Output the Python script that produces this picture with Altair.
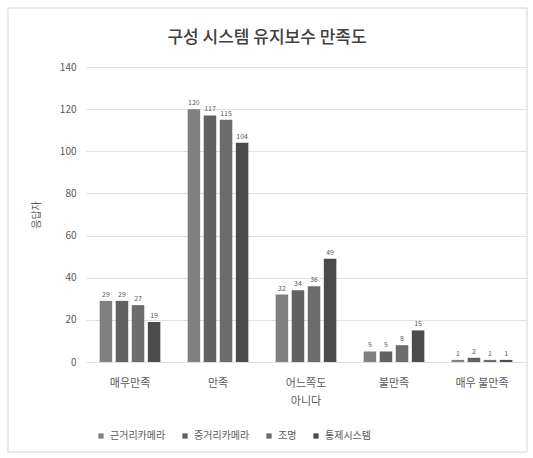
import altair as alt
import pandas as pd

# Survey categories (x axis) and equipment series
categories = ["매우만족", "만족", "어느쪽도 아니다", "불만족", "매우 불만족"]
series = ["근거리카메라", "중거리카메라", "조명", "통제시스템"]

# Respondent counts per series, in category order
near_camera = [29, 120, 32, 5, 1]
mid_camera = [29, 117, 34, 5, 2]
lighting = [27, 115, 36, 8, 1]
control_system = [19, 104, 49, 15, 1]

chart_title = ["구성 시스템 유지보수 만족도"]
y_ticks = [0, 20, 40, 60, 80, 100, 120, 140]
bar_colors = ["#808080", "#616161", "#6c6c6c", "#4b4b4b"]

rows = []
for name, values in zip(series, [near_camera, mid_camera, lighting, control_system]):
    for cat, v in zip(categories, values):
        rows.append({"category": cat, "series": name, "count": v})
df = pd.DataFrame(rows)

FONT = "Noto Sans CJK KR"

x_enc = alt.X(
    "category:N",
    sort=categories,
    scale=alt.Scale(paddingInner=0.31, paddingOuter=0.155),
    axis=alt.Axis(
        title=None,
        labelAngle=0,
        labelFontSize=11,
        labelColor="#595959",
        labelPadding=15,
        ticks=False,
        domain=False,
        labelExpr="datum.label == '어느쪽도 아니다' ? ['어느쪽도', '아니다'] : datum.label",
        labelLineHeight=18,
    ),
)
y_enc = alt.Y(
    "count:Q",
    scale=alt.Scale(domain=[0, 140], nice=False),
    axis=alt.Axis(
        title="응답자",
        titleFontSize=10,
        titleColor="#595959",
        titleFontWeight="normal",
        titlePadding=18,
        values=y_ticks,
        labelFontSize=10,
        labelColor="#595959",
        labelPadding=10,
        ticks=False,
        domain=False,
        gridColor="#e0e0e0",
    ),
)
offset = alt.XOffset("series:N", sort=series, scale=alt.Scale(paddingInner=0.22))
color = alt.Color(
    "series:N",
    sort=series,
    scale=alt.Scale(domain=series, range=bar_colors),
    legend=alt.Legend(
        title=None,
        orient="none",
        direction="horizontal",
        legendX=10,
        legendY=364,
        symbolType="square",
        symbolSize=28,
        labelFontSize=10,
        labelColor="#595959",
        columnPadding=14,
        symbolStrokeWidth=0,
    ),
)

base = alt.Chart(df)
bars = base.mark_bar().encode(x=x_enc, xOffset=offset, y=y_enc, color=color)
labels = base.mark_text(dy=-6, fontSize=7, color="#595959", font=FONT).encode(
    x=alt.X("category:N", sort=categories),
    xOffset=offset,
    y="count:Q",
    text="count:Q",
)

# Chart heading, centred over the whole figure rather than the plot area
heading = (
    alt.Chart(pd.DataFrame({"t": chart_title}))
    .mark_text(fontSize=17, fontWeight=500, color="#404040", font=FONT,
               baseline="middle", align="center")
    .encode(x=alt.value(181), y=alt.value(-29), text="t:N")
)

# Light outline around the whole figure
frame = (
    alt.Chart(pd.DataFrame({"f": [0]}))
    .mark_rect(fill=None, stroke="#d4d4d4", strokeWidth=1, clip=False)
    .encode(x=alt.value(-78), x2=alt.value(441), y=alt.value(-59), y2=alt.value(385))
)

chart = (
    alt.layer(bars, labels, heading, frame)
    .properties(
        width=440,
        height=295,
        autosize=alt.AutoSizeParams(type="none"),
        padding={"left": 86, "top": 67, "right": 7, "bottom": 96},
    )
    .configure(font=FONT, background="white")
    .configure_view(stroke=None)
)

chart.save("out.html", embed_options={"renderer": "svg", "actions": False})
